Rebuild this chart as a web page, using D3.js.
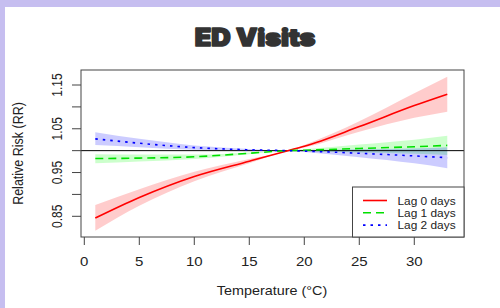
<!DOCTYPE html>
<html>
<head>
<meta charset="utf-8">
<script src="https://cdn.jsdelivr.net/npm/d3@7"></script>
<style>
  html, body { margin: 0; padding: 0; background: #ffffff; }
  svg { display: block; }
</style>
</head>
<body>
<div id="chart"></div>
<script>
var temps = [1, 5, 10, 15, 18.5, 20, 25, 30, 33];

// Lag 0
var lag0 = [0.846, 0.893, 0.941, 0.976, 1.0, 1.010, 1.055, 1.103, 1.129];
var lag0Low = [0.817, 0.874, 0.930, 0.971, 1.0, 1.007, 1.043, 1.075, 1.089];
var lag0High = [0.876, 0.912, 0.952, 0.981, 1.0, 1.013, 1.067, 1.131, 1.169];

// Lag 1
var lag1 = [0.982, 0.983, 0.986, 0.994, 1.0, 1.001, 1.005, 1.009, 1.012];
var lag1Low = [0.971, 0.975, 0.981, 0.992, 1.0, 0.999, 0.996, 0.993, 0.990];
var lag1High = [0.992, 0.991, 0.991, 0.996, 1.0, 1.003, 1.014, 1.025, 1.034];

// Lag 2
var lag2 = [1.027, 1.017, 1.007, 1.002, 1.0, 0.999, 0.994, 0.988, 0.984];
var lag2Low = [1.013, 1.008, 1.002, 1.000, 1.0, 0.997, 0.985, 0.971, 0.960];
var lag2High = [1.042, 1.027, 1.012, 1.004, 1.0, 1.001, 1.003, 1.005, 1.008];

var xTicks = [0, 5, 10, 15, 20, 25, 30];
var yTicks = [0.85, 0.90, 0.95, 1.00, 1.05, 1.10, 1.15];
var yTickLabels = ['0.85', '', '0.95', '', '1.05', '', '1.15'];
var legendLabels = ['Lag 0 days', 'Lag 1 days', 'Lag 2 days'];

var width = 500, height = 308;
var box = {left: 81, right: 464, top: 70, bottom: 237};
var sx = 1.2;   // the R plot was stretched sideways
var font = 'Liberation Sans, Arial, sans-serif';

var svg = d3.select('#chart').append('svg')
  .attr('width', width)
  .attr('height', height);

// lavender frame top and left
svg.append('rect').attr('x', 0).attr('y', 0).attr('width', width).attr('height', 7).attr('fill', '#c6bef0');
svg.append('rect').attr('x', 0).attr('y', 0).attr('width', 5).attr('height', height).attr('fill', '#c6bef0');

// title
svg.append('text')
  .attr('transform', 'translate(255,46) scale(1.12,1)')
  .attr('text-anchor', 'middle')
  .style('font-family', 'Inter, Roboto, Lato, sans-serif')
  .style('font-weight', 900)
  .style('font-size', '24px')
  .style('letter-spacing', '0px')
  .attr('fill', '#333333')
  .attr('stroke', '#333333')
  .attr('stroke-width', 1.6)
  .attr('stroke-linejoin', 'round')
  .text('ED Visits');

var x = d3.scaleLinear().domain([-0.3, 34.52]).range([box.left, box.right]);
var y = d3.scaleLinear().domain([0.8027, 1.1843]).range([box.bottom, box.top]);

var series = [
  {mid: lag0, lo: lag0Low, hi: lag0High, color: '#ff0000', band: 'rgba(255,0,0,0.2)', dash: null},
  {mid: lag1, lo: lag1Low, hi: lag1High, color: '#00e000', band: 'rgba(0,255,0,0.2)', dash: '8,5'},
  {mid: lag2, lo: lag2Low, hi: lag2High, color: '#0000ff', band: 'rgba(0,0,255,0.2)', dash: '2.5,5'}
];

var area = d3.area()
  .curve(d3.curveMonotoneX)
  .x(function(d) { return x(d.t); })
  .y0(function(d) { return y(d.lo); })
  .y1(function(d) { return y(d.hi); });

var line = d3.line()
  .curve(d3.curveMonotoneX)
  .x(function(d) { return x(d.t); })
  .y(function(d) { return y(d.v); });

// bands first
series.forEach(function(s) {
  var pts = temps.map(function(t, i) { return {t: t, lo: s.lo[i], hi: s.hi[i]}; });
  svg.append('path')
    .datum(pts)
    .attr('d', area)
    .attr('fill', s.band)
    .attr('stroke', 'none');
});

// reference line at RR = 1
svg.append('line')
  .attr('x1', box.left).attr('x2', box.right)
  .attr('y1', y(1)).attr('y2', y(1))
  .attr('stroke', '#000').attr('stroke-width', 1);

// curves
series.forEach(function(s) {
  var pts = temps.map(function(t, i) { return {t: t, v: s.mid[i]}; });
  svg.append('path')
    .datum(pts)
    .attr('d', line)
    .attr('fill', 'none')
    .attr('stroke', s.color)
    .attr('stroke-width', 1.6)
    .attr('stroke-dasharray', s.dash);
});

// plot box
svg.append('rect')
  .attr('x', box.left).attr('y', box.top)
  .attr('width', box.right - box.left).attr('height', box.bottom - box.top)
  .attr('fill', 'none').attr('stroke', '#444').attr('stroke-width', 1);

// x axis ticks and labels
var xa = svg.append('g');
xTicks.forEach(function(t) {
  xa.append('line')
    .attr('x1', x(t)).attr('x2', x(t))
    .attr('y1', box.bottom).attr('y2', box.bottom + 8)
    .attr('stroke', '#444');
  xa.append('text')
    .attr('transform', 'translate(' + x(t) + ',266) scale(' + sx + ',1)')
    .attr('text-anchor', 'middle')
    .style('font-family', font)
    .style('font-size', '12.5px')
    .attr('fill', '#222')
    .text(t);
});

// y axis ticks and labels
var ya = svg.append('g');
yTicks.forEach(function(t, i) {
  ya.append('line')
    .attr('x1', box.left - 9).attr('x2', box.left)
    .attr('y1', y(t)).attr('y2', y(t))
    .attr('stroke', '#444');
  if (yTickLabels[i]) {
    ya.append('text')
      .attr('transform', 'translate(61.5,' + y(t) + ') scale(' + sx + ',1) rotate(-90)')
      .attr('text-anchor', 'middle')
      .style('font-family', font)
      .style('font-size', '12px')
      .attr('fill', '#222')
      .text(yTickLabels[i]);
  }
});

// axis titles
svg.append('text')
  .attr('transform', 'translate(272,295) scale(' + 1.15 + ',1)')
  .attr('text-anchor', 'middle')
  .style('font-family', font)
  .style('font-size', '12.5px')
  .attr('fill', '#222')
  .text('Temperature (°C)');

svg.append('text')
  .attr('transform', 'translate(22.5,' + ((box.top + box.bottom) / 2) + ') scale(' + sx + ',1) rotate(-90)')
  .attr('text-anchor', 'middle')
  .style('font-family', font)
  .style('font-size', '12.5px')
  .attr('fill', '#222')
  .text('Relative Risk (RR)');

// legend
var lg = svg.append('g');
lg.append('rect')
  .attr('x', 352.5).attr('y', 187)
  .attr('width', box.right - 352.5).attr('height', box.bottom - 187)
  .attr('fill', '#fff').attr('stroke', '#444').attr('stroke-width', 1);
series.forEach(function(s, i) {
  var ly = 200.5 + i * 12.3;
  lg.append('line')
    .attr('x1', 363).attr('x2', 387)
    .attr('y1', ly).attr('y2', ly)
    .attr('stroke', s.color)
    .attr('stroke-width', 1.6)
    .attr('stroke-dasharray', s.dash);
  lg.append('text')
    .attr('transform', 'translate(397.5,' + (ly + 4) + ') scale(1.08,1)')
    .style('font-family', font)
    .style('font-size', '11px')
    .attr('fill', '#222')
    .text(legendLabels[i]);
});
</script>
</body>
</html>
